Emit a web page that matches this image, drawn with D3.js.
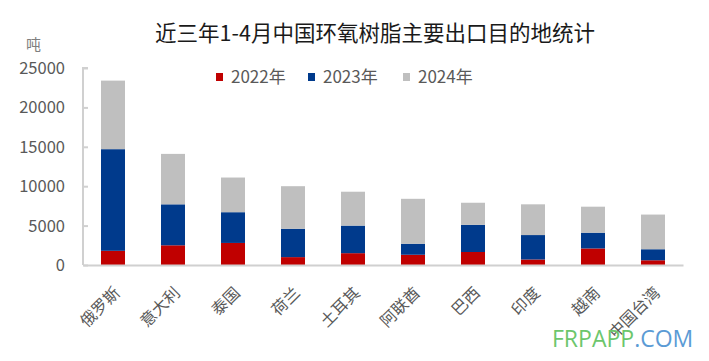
<!DOCTYPE html>
<html><head><meta charset="utf-8">
<script src="https://cdn.jsdelivr.net/npm/d3@7"></script>
<style>body{margin:0;background:#fff;} svg{display:block;}</style>
</head><body>
<svg id="c" width="709" height="361"></svg>
<script>
const categories = ["俄罗斯","意大利","泰国","荷兰","土耳其","阿联酋","巴西","印度","越南","中国台湾"];
const seriesNames = ["2022年","2023年","2024年"];
const v2022 = [1800, 2500, 2800, 1000, 1500, 1300, 1650, 700, 2100, 600];
const v2023 = [12900, 5200, 3900, 3600, 3500, 1400, 3450, 3100, 2000, 1400];
const v2024 = [8700, 6400, 4400, 5400, 4300, 5700, 2800, 3900, 3300, 4400];
const yTicks = [0, 5000, 10000, 15000, 20000, 25000];
const colors = ["#C00000", "#003A8C", "#BFBFBF"];

const svg = d3.select("#c");
const font = "'Noto Sans CJK SC','Noto Sans',sans-serif";
const m = {left: 83, right: 683, top: 68, bottom: 265};

const x = d3.scaleBand().domain(categories).range([m.left, m.right]).paddingInner(0.6).paddingOuter(0.3);
const y = d3.scaleLinear().domain([0, 25000]).range([m.bottom, m.top]);

const rows = categories.map((c, i) => ({cat: c, "2022年": v2022[i], "2023年": v2023[i], "2024年": v2024[i]}));
const stack = d3.stack().keys(seriesNames)(rows);

svg.append("g").selectAll("g").data(stack).join("g")
  .attr("fill", (d, i) => colors[i])
  .selectAll("rect").data(d => d).join("rect")
  .attr("x", d => x(d.data.cat))
  .attr("width", x.bandwidth())
  .attr("y", d => y(d[1]))
  .attr("height", d => y(d[0]) - y(d[1]));

// Y axis
const yAxis = svg.append("g").attr("transform", `translate(${m.left},0)`)
  .call(d3.axisRight(y).tickValues(yTicks).tickSize(5).tickFormat(""));
yAxis.select(".domain").attr("stroke", "#D0D0D0").attr("stroke-width", 2).attr("d", `M5,${m.top}H0V${m.bottom}`);
yAxis.selectAll(".tick line").attr("stroke", "#D0D0D0").attr("stroke-width", 2);
svg.append("g").selectAll("text").data(yTicks).join("text")
  .attr("x", 65).attr("y", d => y(d)).attr("dy", "0.36em")
  .attr("text-anchor", "end").attr("font-family", font).attr("font-size", 16.5)
  .attr("fill", "#595959").text(d => d);

// X axis
const xAxis = svg.append("g").attr("transform", `translate(0,${m.bottom})`)
  .call(d3.axisBottom(x).tickSize(0).tickFormat(""));
xAxis.select(".domain").attr("stroke", "#D0D0D0").attr("stroke-width", 2);
svg.append("g").selectAll("text").data(categories).join("text")
  .attr("transform", d => `translate(${x(d) + x.bandwidth() / 2 + 4},${m.bottom + 25}) rotate(-45)`)
  .attr("text-anchor", "end").attr("dy", "0.35em")
  .attr("font-family", font).attr("font-size", 16).attr("fill", "#595959").text(d => d);

// Title
svg.append("text").attr("x", 375).attr("y", 33).attr("dy", "0.35em").attr("text-anchor", "middle")
  .attr("font-family", font).attr("font-size", 21.5).attr("fill", "#1a1a1a").text("近三年1-4月中国环氧树脂主要出口目的地统计");
// unit
svg.append("text").attr("x", 26).attr("y", 45).attr("dy", "0.35em")
  .attr("font-family", font).attr("font-size", 15).attr("fill", "#7f7f7f").text("吨");

// Legend
const legX = [216, 308, 403];
const leg = svg.append("g").selectAll("g").data(seriesNames).join("g")
  .attr("transform", (d, i) => `translate(${legX[i]},77)`);
leg.append("rect").attr("x", 0).attr("y", -4).attr("width", 7).attr("height", 8).attr("fill", (d, i) => colors[i]);
leg.append("text").attr("x", 15).attr("dy", "0.35em").attr("font-family", font).attr("font-size", 17)
  .attr("fill", "#595959").text(d => d);

// Watermark
const wm = svg.append("text").attr("x", 552).attr("y", 339).attr("dy", "0.35em")
  .attr("font-family", "'Open Sans','Noto Sans',sans-serif").attr("font-size", 23);
wm.append("tspan").attr("fill", "#6CC66C").text("FRPAPP");
wm.append("tspan").attr("fill", "#5B9BD5").text(".COM");
</script>
</body></html>
